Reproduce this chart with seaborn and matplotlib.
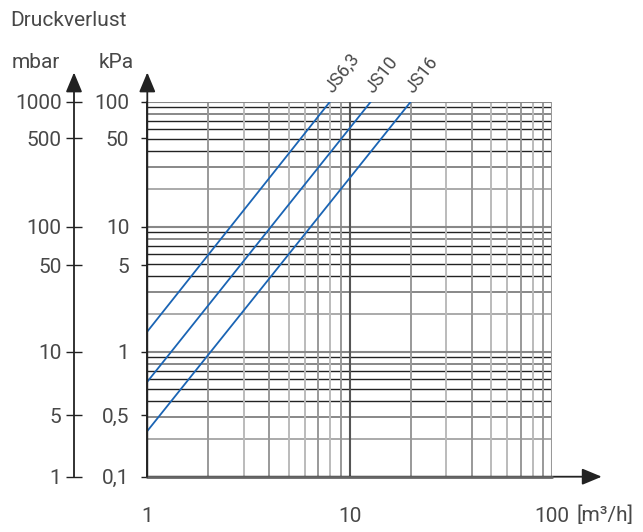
import numpy as np
import pandas as pd
import matplotlib
matplotlib.use('Agg')
import matplotlib.pyplot as plt
import seaborn as sns

sns.set_style('white')
plt.rcParams['font.family'] = ['Roboto', 'DejaVu Sans']

# valve curves: flow [m3/h] vs pressure drop [kPa]
valves = ['JS6,3', 'JS10', 'JS16']
flow_start = [1, 1, 1]
flow_end = [7.98, 12.7, 20.0]
dp_start = [1.45, 0.575, 0.232]
dp_end = [100, 100, 100]

# tick positions as drawn in the original (its "0,5" / "5" sit near 0.31 / 3.1)
kpa_ticks = [0.1, 0.31, 1, 4.9, 10, 51, 100]
kpa_labels = ['0,1', '0,5', '1', '5', '10', '50', '100']
mbar_ticks = [1, 3.1, 10, 49, 100, 510, 1000]
mbar_labels = ['1', '5', '10', '50', '100', '500', '1000']
x_ticks = [1, 10, 100]
x_labels = ['1', '10', '100']

# grid colours per mantissa 2..9 (the original mixes grey and black lines)
h_grid_cols = ['#aaaaaa', '#888888', '#222222', '#222222', '#222222', '#222222', '#888888', '#222222']
v_grid_cols = ['#999999', '#bbbbbb', '#999999', '#bbbbbb', '#bbbbbb', '#999999', '#bbbbbb', '#999999']

rows = []
for name, q0, q1, p0, p1 in zip(valves, flow_start, flow_end, dp_start, dp_end):
    rows.append({'valve': name, 'q': q0, 'dp': p0})
    rows.append({'valve': name, 'q': q1, 'dp': p1})
df = pd.DataFrame(rows)

txt = '#484848'
fig = plt.figure(figsize=(6.43, 5.32), dpi=100)
ax = fig.add_axes([147.3 / 643, 1 - 476.7 / 532, 405 / 643, 375 / 532])
ax.set_xscale('log')
ax.set_yscale('log')
ax.set_xlim(1, 100)
ax.set_ylim(0.1, 100)

# grid
for dec in [0.1, 1, 10]:
    for m, c in zip(range(2, 10), h_grid_cols):
        lw = 1.0 if c == '#222222' else 1.4
        ax.axhline(dec * m, color=c, lw=lw, zorder=1)
for dec in [1, 10]:
    for m, c in zip(range(2, 10), v_grid_cols):
        ax.axvline(dec * m, color=c, lw=1.4, zorder=1)
for v in [1, 10, 100]:
    ax.axhline(v, color='#888888', lw=1.5, zorder=1)
ax.axvline(10, color='#555555', lw=1.5, zorder=1)
ax.axvline(100, color='#999999', lw=1.5, zorder=1)

sns.lineplot(data=df, x='q', y='dp', hue='valve', palette=['#1a64b4'] * 3,
             lw=1.3, legend=False, ax=ax, zorder=3)

for name, q1, p1 in zip(valves, flow_end, dp_end):
    ax.annotate(name, xy=(q1, p1), xytext=(4, 4), textcoords='offset points',
                rotation=52, rotation_mode='anchor', ha='left', va='bottom',
                fontsize=13, color=txt)

for s in ax.spines.values():
    s.set_visible(False)

ax.set_xlabel('')
ax.set_ylabel('')
ax.set_xticks(x_ticks)
ax.set_xticklabels(x_labels)
ax.set_yticks(kpa_ticks)
ax.set_yticklabels(kpa_labels)
ax.minorticks_off()
ax.tick_params(axis='x', length=0, pad=22, labelsize=15, labelcolor=txt)
ax.tick_params(axis='y', direction='out', length=4, width=1, color='#222222',
               pad=9, labelsize=15, labelcolor=txt, left=True)

# axes with arrows
arw = dict(arrowstyle='-|>,head_length=0.6,head_width=0.25', color='#222222',
           lw=1.3, mutation_scale=20, shrinkA=0, shrinkB=0)
ax.annotate('', xy=(0, 1.078), xytext=(0, 0), xycoords='axes fraction', arrowprops=arw)
ax.annotate('', xy=(1.122, 0), xytext=(0, 0), xycoords='axes fraction', arrowprops=arw)
ax.plot([0, 1], [0, 0], transform=ax.transAxes, color='#666666', lw=2, clip_on=False, zorder=4)
ax.plot([0, 0], [0, 1], transform=ax.transAxes, color='#222222', lw=1.3, clip_on=False, zorder=4)

# mbar axis
mb_pos = (74 - 147.3) / 405
sec = ax.secondary_yaxis(mb_pos, functions=(lambda y: y * 10, lambda y: y / 10))
sec.set_yticks(mbar_ticks)
sec.set_yticklabels(mbar_labels)
sec.minorticks_off()
sec.spines['left'].set_visible(False)
sec.tick_params(axis='y', direction='inout', length=12, width=1, color='#222222',
                pad=3, labelsize=15, labelcolor=txt)
ax.annotate('', xy=(mb_pos, 1.078), xytext=(mb_pos, 0), xycoords='axes fraction', arrowprops=arw)

fig.text(10 / 643, 1 - 21 / 532, 'Druckverlust', fontsize=15, color=txt, ha='left', va='center')
fig.text(12 / 643, 1 - 62 / 532, 'mbar', fontsize=15, color=txt, ha='left', va='center')
fig.text(99 / 643, 1 - 62 / 532, 'kPa', fontsize=15, color=txt, ha='left', va='center')
fig.text(576 / 643, 1 - 515 / 532, '[m³/h]', fontsize=15, color=txt, ha='left', va='center')

fig.savefig('out.png', dpi=100)
